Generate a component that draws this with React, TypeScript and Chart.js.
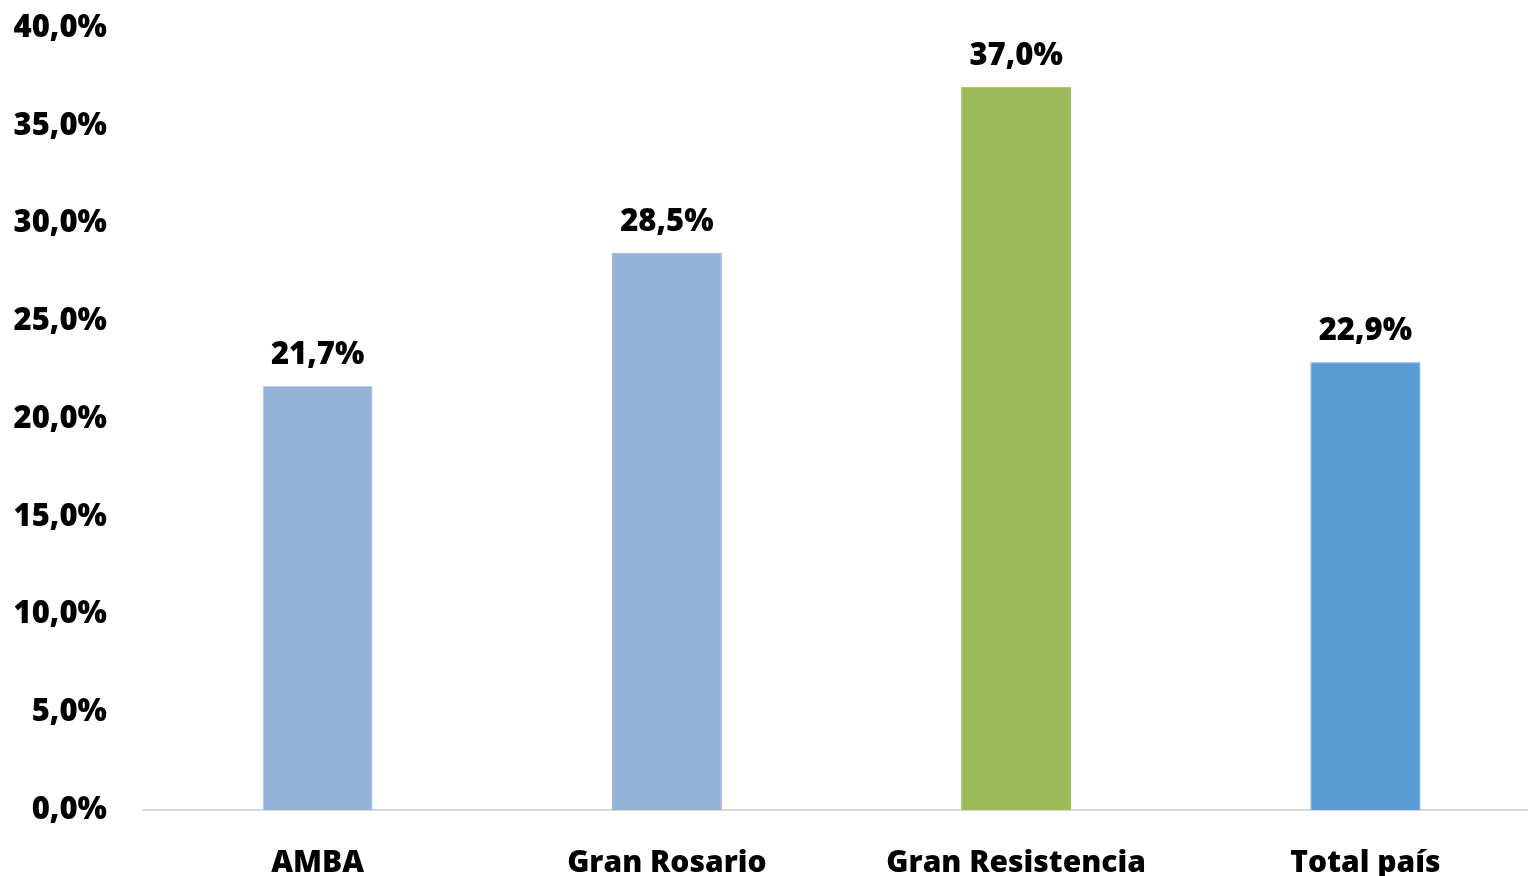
import React, { useEffect, useRef } from "react";
import { Chart, registerables } from "chart.js";

Chart.register(...registerables);

const categories = ["AMBA", "Gran Rosario", "Gran Resistencia", "Total país"];
const values = [21.7, 28.5, 37.0, 22.9];
const barColors = ["#95B3D7", "#95B3D7", "#9BBB59", "#5B9BD5"];
const borderColors = ["#B9CDE5", "#95B3D7", "#9BBB59", "#5B9BD5"];
const yTicks = [0, 5, 10, 15, 20, 25, 30, 35, 40];

const FONT = "'Open Sans', sans-serif";
const fmt = (v: number) => v.toFixed(1).replace(".", ",") + "%";

const labelPlugin = {
  id: "barLabels",
  afterDatasetsDraw(chart: any) {
    const ctx = chart.ctx;
    const meta = chart.getDatasetMeta(0);
    ctx.save();
    ctx.font = `800 31px ${FONT}`;
    ctx.fillStyle = "#000";
    ctx.textAlign = "center";
    ctx.textBaseline = "alphabetic";
    meta.data.forEach((bar: any, i: number) => {
      ctx.fillText(fmt(values[i]), bar.x, bar.y - 22);
    });
    ctx.restore();
  },
};

export default function App() {
  const ref = useRef<HTMLCanvasElement>(null);
  useEffect(() => {
    if (!ref.current) return;
    const chart = new Chart(ref.current, {
      type: "bar",
      data: {
        labels: categories,
        datasets: [
          {
            data: values,
            backgroundColor: barColors,
            borderColor: borderColors,
            borderWidth: 1,
            barPercentage: 0.315,
            categoryPercentage: 1,
          },
        ],
      },
      options: {
        responsive: false,
        animation: false,
        layout: { padding: { top: 28, left: 0, right: 0, bottom: 0 } },
        plugins: { legend: { display: false }, tooltip: { enabled: false } },
        scales: {
          x: {
            grid: { display: false, drawTicks: false },
            border: { display: true, color: "#D9D9D9", width: 2 },
            ticks: {
              color: "#000",
              font: { family: FONT, size: 30, weight: "800" },
              padding: 35,
              maxRotation: 0,
              autoSkip: false,
            },
            afterFit: (s: any) => {
              s.height = 66;
              s.paddingTop = 0;
              s.paddingBottom = 0;
              s.paddingLeft = 0;
              s.paddingRight = 0;
            },
          },
          y: {
            min: 0,
            max: 40,
            afterBuildTicks: (s: any) => {
              s.ticks = yTicks.map((v) => ({ value: v }));
            },
            grid: { display: false, drawTicks: false },
            border: { display: false },
            ticks: {
              color: "#000",
              font: { family: FONT, size: 31, weight: "800" },
              padding: 36,
              callback: (v: any) => fmt(Number(v)),
            },
            afterFit: (s: any) => {
              s.width = 143;
              s.paddingTop = 0;
              s.paddingBottom = 0;
            },
          },
        },
      },
      plugins: [labelPlugin],
    });
    return () => chart.destroy();
  }, []);
  return (
    <div style={{ position: "fixed", left: 0, top: 0, width: 1528, height: 876, overflow: "hidden", background: "#fff" }}>
      <canvas ref={ref} width={1540} height={876} style={{ display: "block" }} />
    </div>
  );
}
